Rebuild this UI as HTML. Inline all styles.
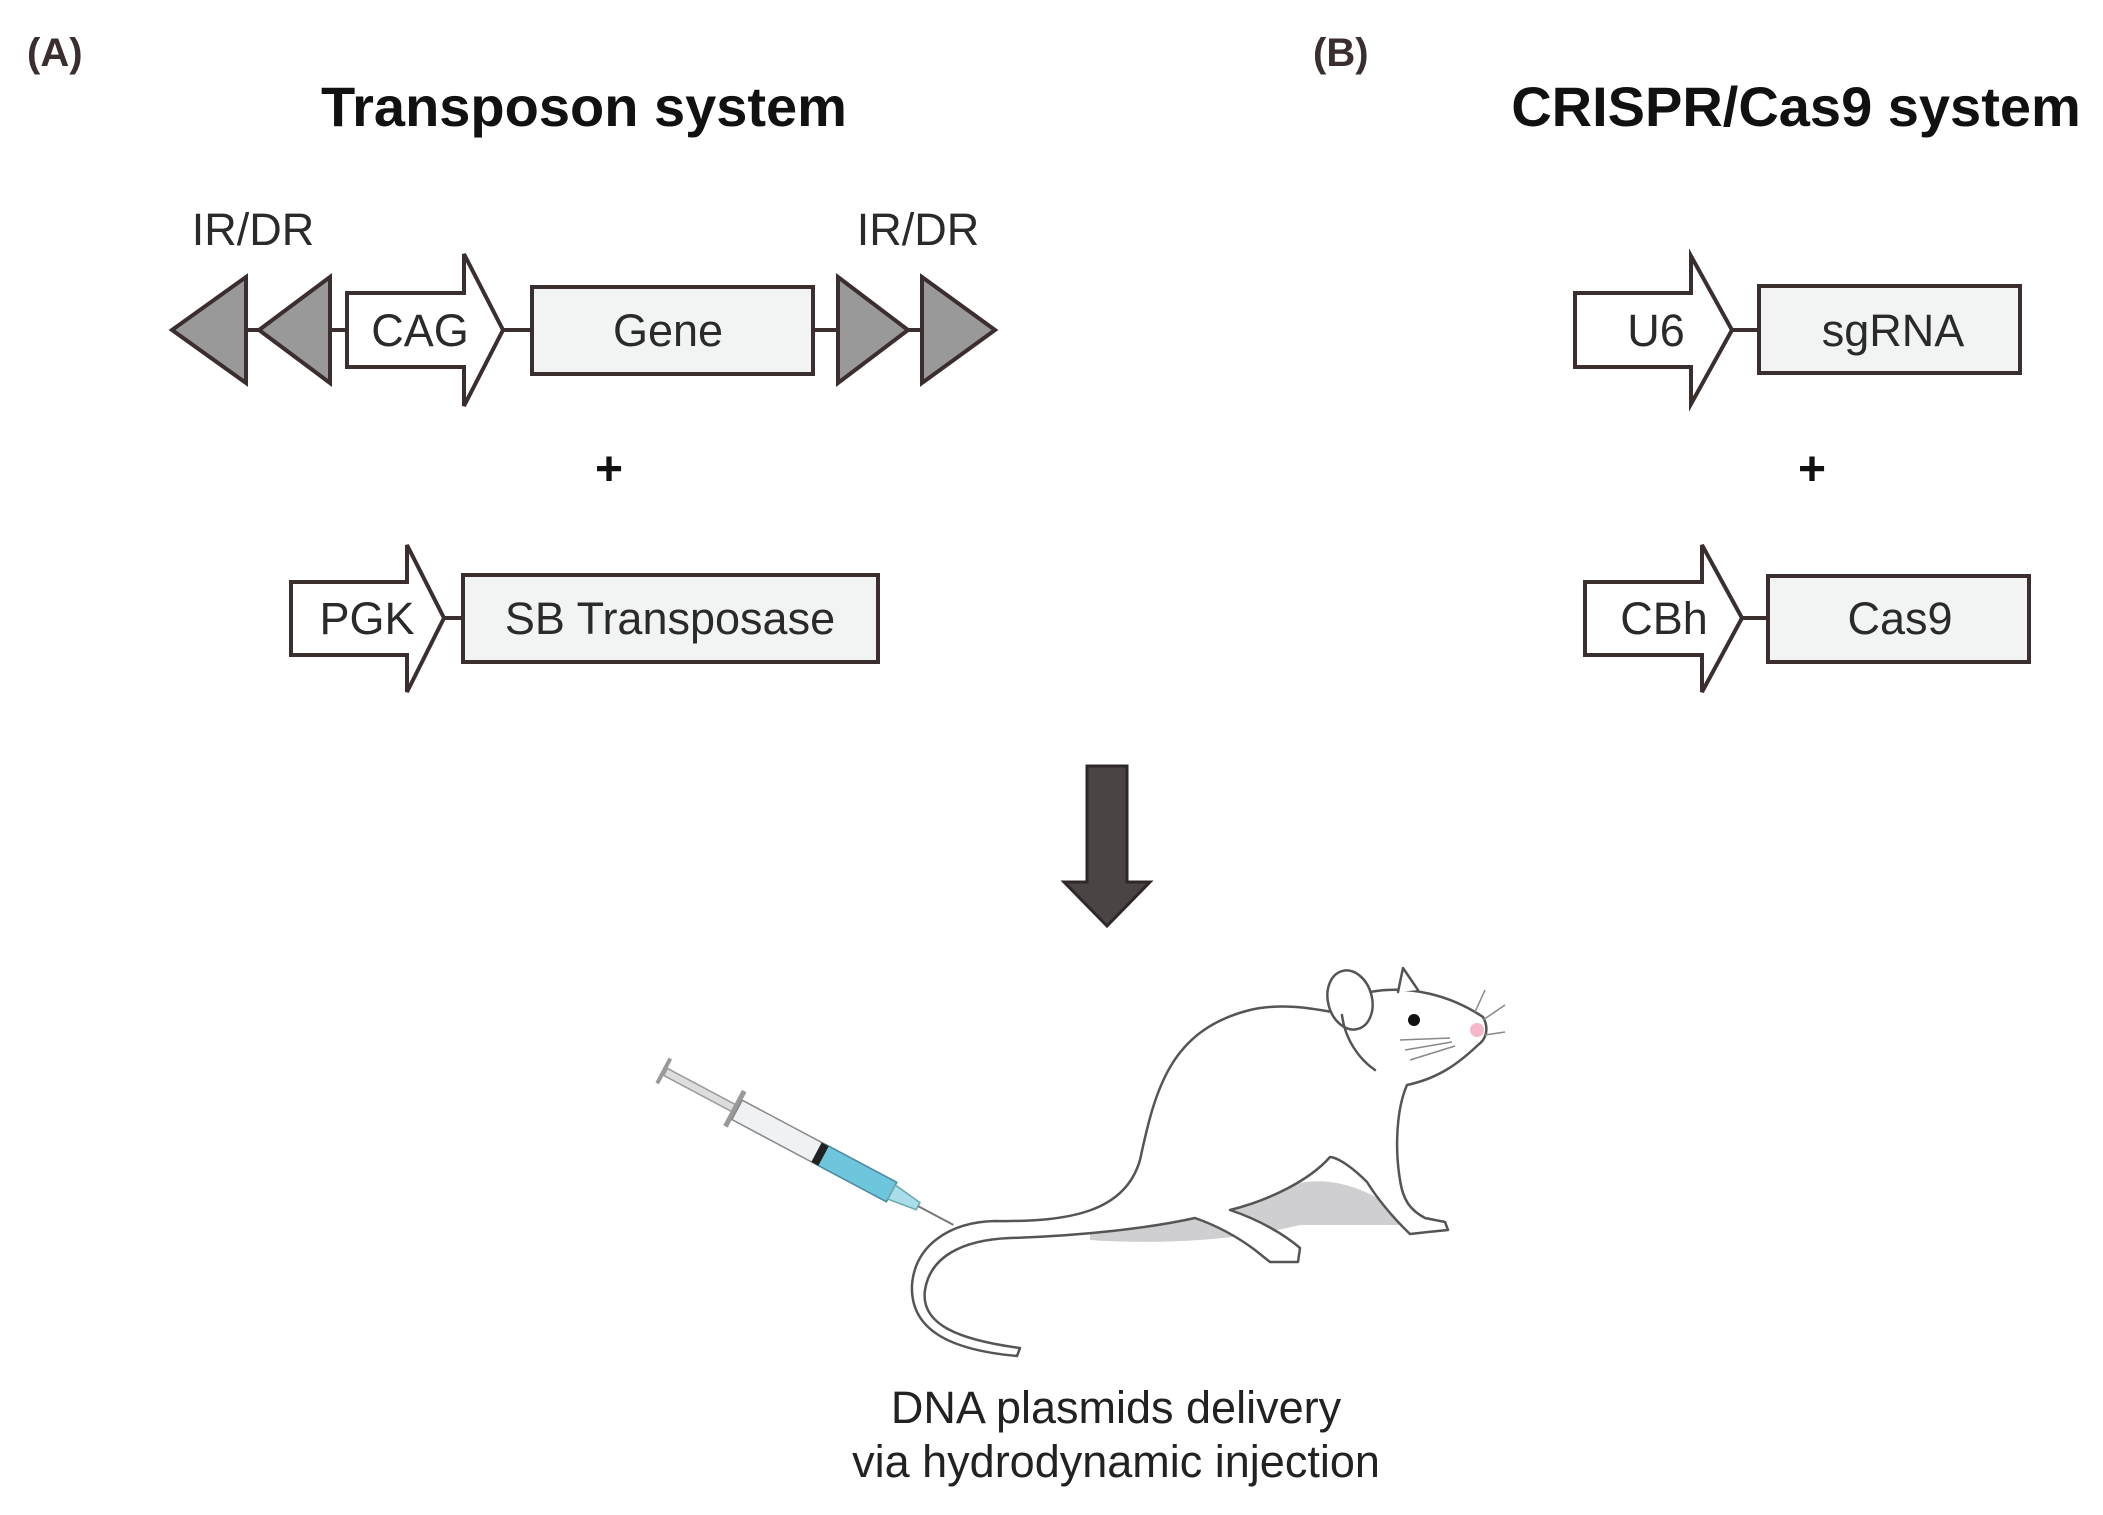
<!DOCTYPE html>
<html><head><meta charset="utf-8"><style>
html,body{margin:0;padding:0;background:#fff;}
svg{display:block;}
text{font-family:"Liberation Sans",Arial,sans-serif;}
</style></head><body>
<svg width="2103" height="1515" viewBox="0 0 2103 1515" xmlns="http://www.w3.org/2000/svg">
<text x="27" y="66" font-size="40" font-weight="bold" fill="#3a2e2e">(A)</text>
<text x="1313" y="66" font-size="40" font-weight="bold" fill="#3a2e2e">(B)</text>
<text x="584" y="126" font-size="56" font-weight="bold" fill="#111" text-anchor="middle">Transposon system</text>
<text x="1796" y="126" font-size="56" font-weight="bold" fill="#111" text-anchor="middle">CRISPR/Cas9 system</text>

<g stroke="#3a2e2e" stroke-width="4" stroke-linejoin="miter">
<line x1="246" y1="330" x2="259" y2="330"/>
<line x1="330" y1="330" x2="347" y2="330"/>
<line x1="503" y1="330" x2="532" y2="330"/>
<line x1="813" y1="330" x2="838" y2="330"/>
<line x1="908" y1="330" x2="922" y2="330"/>
<polygon points="172,330 246,277 246,383" fill="#999"/>
<polygon points="259,330 330,277 330,383" fill="#999"/>
<polygon points="838,277 908,330 838,383" fill="#999"/>
<polygon points="922,277 995,330 922,383" fill="#999"/>
<polygon points="347,293 464,293 464,254 503,330 464,406 464,367 347,367" fill="#fff"/>
<rect x="532" y="287" width="281" height="87" fill="#f2f4f4"/>
<line x1="444" y1="618" x2="463" y2="618"/>
<polygon points="291,582 407,582 407,545 444,618 407,692 407,655 291,655" fill="#fff"/>
<rect x="463" y="575" width="415" height="87" fill="#f2f4f4"/>
<line x1="1732" y1="330" x2="1759" y2="330"/>
<polygon points="1575,293 1691,293 1691,256 1732,330 1691,404 1691,367 1575,367" fill="#fff"/>
<rect x="1759" y="286" width="261" height="87" fill="#f2f4f4"/>
<line x1="1742" y1="618" x2="1768" y2="618"/>
<polygon points="1585,582 1702,582 1702,545 1742,618 1702,692 1702,655 1585,655" fill="#fff"/>
<rect x="1768" y="576" width="261" height="86" fill="#f2f4f4"/>
</g>

<g font-size="45" fill="#2a2a2a" text-anchor="middle">
<text x="253" y="245">IR/DR</text>
<text x="918" y="245">IR/DR</text>
<text x="420" y="346">CAG</text>
<text x="668" y="346">Gene</text>
<text x="367" y="634">PGK</text>
<text x="670" y="634">SB Transposase</text>
<text x="1656" y="346">U6</text>
<text x="1893" y="346">sgRNA</text>
<text x="1664" y="634">CBh</text>
<text x="1900" y="634">Cas9</text>
</g>
<text x="609" y="485" font-size="48" font-weight="bold" fill="#111" text-anchor="middle">+</text>
<text x="1812" y="485" font-size="48" font-weight="bold" fill="#111" text-anchor="middle">+</text>

<polygon points="1087,766 1127,766 1127,882 1150,882 1107,926 1064,882 1087,882" fill="#4a4444" stroke="#2e2828" stroke-width="3"/>

<path d="M1090 1230 C1150 1220 1230 1200 1300 1183 C1340 1175 1380 1195 1420 1225 L1300 1225 C1240 1240 1160 1245 1090 1240 Z" fill="#cfcfd1"/>

<g fill="#fff" stroke="#555" stroke-width="2.5" stroke-linejoin="round" stroke-linecap="round">
<path d="M995 1221 C1070 1222 1125 1212 1140 1160 C1155 1090 1170 1030 1250 1010 C1280 1003 1310 1008 1332 1012 L1370 992 C1410 985 1450 995 1483 1017 C1490 1030 1485 1040 1478 1045 C1460 1062 1440 1078 1407 1085 C1396 1110 1395 1150 1400 1180 C1403 1200 1410 1210 1425 1218 L1445 1222 L1448 1230 L1428 1232 L1410 1234 C1390 1215 1375 1195 1367 1182 C1355 1170 1340 1158 1330 1157 C1310 1180 1270 1200 1230 1210 C1260 1220 1285 1235 1300 1248 L1298 1262 L1270 1262 L1255 1250 C1235 1235 1215 1225 1195 1218 C1150 1228 1080 1236 1010 1238 C960 1240 930 1258 925 1290 C920 1325 960 1340 1020 1348 L1017 1356 C950 1350 910 1330 912 1285 C915 1245 950 1222 995 1221 Z"/>
<ellipse cx="1350" cy="1000" rx="22" ry="30" transform="rotate(-15 1350 1000)"/>
<path d="M1398 992 L1403 968 L1418 990"/>
<path d="M1342 1015 C1345 1040 1360 1060 1375 1070" fill="none"/>
</g>
<circle cx="1414" cy="1020" r="6" fill="#111"/>
<circle cx="1477" cy="1030" r="7" fill="#f4b8c8"/>
<g stroke="#888" stroke-width="1.5" fill="none">
<path d="M1400 1040 L1450 1038 M1405 1050 L1452 1042 M1410 1060 L1455 1046"/>
<path d="M1475 1012 L1485 990 M1483 1020 L1505 1005 M1485 1035 L1505 1032"/>
</g>

<g transform="translate(662,1070) rotate(28)">
<rect x="0" y="-14" width="4" height="28" fill="#999"/>
<rect x="4" y="-4" width="80" height="8" fill="#ddd" stroke="#999" stroke-width="1.5"/>
<rect x="80" y="-20" width="5" height="40" fill="#999"/>
<rect x="85" y="-11" width="175" height="22" fill="#eef2f4" stroke="#888" stroke-width="1.5"/>
<rect x="180" y="-11" width="80" height="22" fill="#6ec6dd" stroke="#4b8ca0" stroke-width="1.5"/>
<rect x="175" y="-11" width="8" height="22" fill="#222"/>
<polygon points="260,-8 290,-4 290,4 260,8" fill="#a9dde9" stroke="#6aa" stroke-width="1.5"/>
<line x1="290" y1="0" x2="330" y2="0" stroke="#777" stroke-width="2"/>
</g>

<text x="1116" y="1423" font-size="45" fill="#222" text-anchor="middle">DNA plasmids delivery</text>
<text x="1116" y="1477" font-size="45" fill="#222" text-anchor="middle">via hydrodynamic injection</text>
</svg>
</body></html>
